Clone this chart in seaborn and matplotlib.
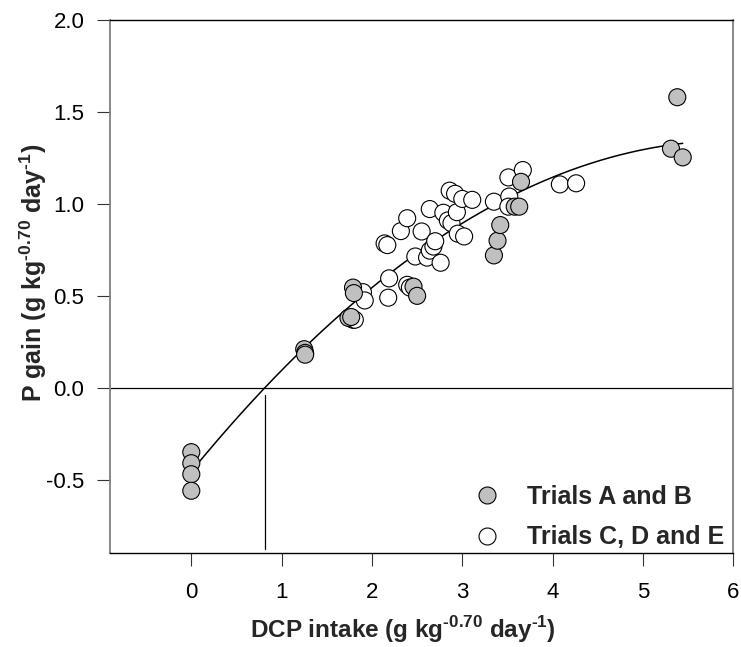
import numpy as np
import pandas as pd
import matplotlib
matplotlib.use("Agg")
import matplotlib.pyplot as plt
from matplotlib.lines import Line2D
import seaborn as sns

# Trials A and B (grey markers)
ab_dcp = [0, 0, 0, 0, 1.25, 1.26, 1.26, 1.74, 1.77, 1.79, 1.80, 2.46, 2.50,
          3.35, 3.39, 3.42, 3.58, 3.63, 3.65, 5.31, 5.38, 5.44]
ab_pgain = [-0.35, -0.41, -0.47, -0.56, 0.21, 0.19, 0.18, 0.38, 0.385, 0.545, 0.515,
            0.55, 0.50, 0.72, 0.80, 0.885, 0.985, 0.985, 1.12, 1.30, 1.58, 1.253]

# Trials C, D and E (open markers)
cde_dcp = [1.79, 1.81, 1.90, 1.92, 2.19, 2.18, 2.39, 2.42, 2.14, 2.17, 2.32, 2.39,
           2.48, 2.55, 2.64, 2.61, 2.64, 2.68, 2.70, 2.76, 2.79, 2.84, 2.86, 2.92,
           2.88, 2.94, 2.95, 3.02, 3.00, 3.11, 3.35, 3.51, 3.67, 3.52, 3.51, 4.08, 4.26]
cde_pgain = [0.37, 0.37, 0.52, 0.475, 0.595, 0.49, 0.56, 0.545, 0.785, 0.776, 0.852, 0.922,
             0.714, 0.850, 0.972, 0.708, 0.746, 0.768, 0.797, 0.680, 0.952, 0.910, 1.072, 1.055,
             0.895, 0.955, 0.838, 0.823, 1.027, 1.022, 1.012, 1.144, 1.184, 1.04, 0.985, 1.106, 1.112]

group_labels = ["Trials A and B", "Trials C, D and E"]
group_fills = ["#c0c0c0", "#ffffff"]

# Quadratic response: P gain = a + b*DCP + c*DCP^2
fit_coef = [-0.455, 0.60, -0.05]
fit_range = [0.0, 5.44]

x_ticks = [0, 1, 2, 3, 4, 5, 6]
y_ticks = [-0.5, 0.0, 0.5, 1.0, 1.5, 2.0]
x_limits = [-0.9, 6.0]
y_limits = [-0.9, 2.0]

sns.set_theme(style="ticks")
plt.rcParams["font.family"] = ["Liberation Sans", "DejaVu Sans"]
plt.rcParams["mathtext.fontset"] = "custom"
plt.rcParams["mathtext.rm"] = "Liberation Sans:bold"
plt.rcParams["mathtext.bf"] = "Liberation Sans:bold"

df = pd.concat([
    pd.DataFrame({"dcp": cde_dcp, "pgain": cde_pgain, "trial": group_labels[1]}),
    pd.DataFrame({"dcp": ab_dcp, "pgain": ab_pgain, "trial": group_labels[0]}),
], ignore_index=True)

fig = plt.figure(figsize=(7.41, 6.47), dpi=100)
ax = fig.add_axes([110 / 741, 1 - 553.3 / 647, 623.3 / 741, 533.3 / 647])

# zero line and the intercept marker
ax.axhline(0, color="black", lw=0.9, zorder=1)
a, b, c = fit_coef
x0 = (-b + np.sqrt(b * b - 4 * c * a)) / (2 * c)
ax.plot([x0, x0], [-0.04, -0.875], color="black", lw=0.9, zorder=1)

# fitted curve
xs = np.linspace(fit_range[0], fit_range[1], 300)
curve = pd.DataFrame({"dcp": xs, "pgain": a + b * xs + c * xs ** 2})
sns.lineplot(data=curve, x="dcp", y="pgain", color="black", lw=1.1, ax=ax, zorder=2)

sns.scatterplot(data=df, x="dcp", y="pgain", hue="trial", hue_order=group_labels,
                palette=dict(zip(group_labels, group_fills)), s=150,
                edgecolor="black", linewidth=0.8, legend=False, ax=ax, zorder=3)

ax.set_xlim(*x_limits)
ax.set_ylim(*y_limits)
ax.set_xticks(x_ticks)
ax.set_xticklabels([str(t) for t in x_ticks])
ax.set_yticks(y_ticks)
ax.set_yticklabels([f"{t:.1f}" for t in y_ticks])
ax.tick_params(axis="both", direction="out", length=9.4, width=0.8, color="#333333",
               labelsize=16, labelcolor="black")
ax.tick_params(axis="x", pad=11.5)
ax.tick_params(axis="y", pad=9.0)

for side in ["top", "bottom"]:
    ax.spines[side].set_color("black")
    ax.spines[side].set_linewidth(1.0)
for side in ["left", "right"]:
    ax.spines[side].set_color("#7f7f7f")
    ax.spines[side].set_linewidth(1.3)

unit_text = r" (g kg$^{\text{-}\mathbf{0.70}}$ day$^{\text{-}\mathbf{1}}$)"
ax.set_xlabel("DCP intake" + unit_text, fontsize=17.5, fontweight="bold", va="center")
ax.set_ylabel("P gain" + unit_text, fontsize=18, fontweight="bold", va="center")
ax.xaxis.set_label_coords(0.470, -0.1438)
ax.yaxis.set_label_coords(-0.1235, 0.525)

handles = [Line2D([], [], marker="o", linestyle="", markersize=12.2,
                  markerfacecolor=f, markeredgecolor="black", markeredgewidth=0.8)
           for f in group_fills]
leg = ax.legend(handles, group_labels, loc="upper left",
                bbox_to_anchor=(474.5 / 741, 1 - 485 / 647), bbox_transform=fig.transFigure,
                frameon=False, borderpad=0, borderaxespad=0, handlelength=1.0,
                handletextpad=1.1, labelspacing=0.66,
                prop={"size": 18, "weight": "bold"})

fig.savefig("out.png", dpi=100)
